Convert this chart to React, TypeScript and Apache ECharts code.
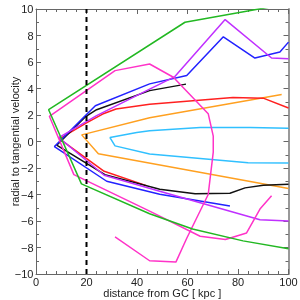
import React, { useEffect, useRef } from "react";
import * as echarts from "echarts";

const xTicks = { min: 0, max: 100, interval: 20 };
const yTicks = { min: -10, max: 10, interval: 2 };
const dashX = 20;

const green = [[100, -8.1], [82, -7.5], [62, -6.6], [45, -5.45], [18, -3.2], [5, 2.4], [59, 9.0], [100, 10.4]];
const pink = [[93.3, -4.1], [88.7, -5.1], [83.4, -6.9], [75, -7.4], [65, -7.15], [45, -5.25], [15, -2.5], [5.3, 1.9], [31.3, 5.35], [45, 5.85], [54.4, 4.85], [68.2, 2.1], [70.2, 0.4], [70.2, -0.8], [68.2, -4.0], [59.7, -7.3], [55.4, -9.1], [45, -9.0], [31.3, -7.2]];
const purple = [[100, -6.0], [88.7, -5.9], [49, -3.75], [27, -2.55], [9, 0.3], [24, 1.95], [45, 3.95], [55, 4.9], [74.9, 9.2], [93.3, 6.3], [100, 6.25]];
const blue = [[76.8, -4.87], [49, -3.98], [28, -3.0], [7.3, -0.38], [19.8, 2.0], [23.5, 2.7], [45, 4.35], [59.7, 4.98], [74.2, 7.9], [86.7, 6.3], [96.6, 6.75], [100, 7.5]];
const black = [[100, -3.23], [90, -3.3], [82.8, -3.5], [76.8, -3.9], [63, -3.95], [49, -3.6], [27.3, -2.5], [8.2, -0.28], [19.8, 1.9], [24, 2.4], [45, 3.84], [59.4, 4.33]];
const red = [[44, -3.35], [27, -2.25], [9.3, 0.2], [20, 1.4], [26.4, 2.07], [31.7, 2.45], [45, 2.82], [78, 3.32], [90, 3.27], [100, 2.53]];
const orange = [[97.3, 3.54], [45, 1.8], [18.1, 0.5], [24.7, -0.92], [100, -3.55]];
const cyan = [[100, 1.0], [84.8, 1.06], [65, 1.06], [45, 0.81], [39.9, 0.68], [29.3, 0.3], [31.3, -0.33], [45, -0.95], [84, -1.6], [100, -1.62]];

const curves: [string, number[][]][] = [
  ["#ffa020", orange],
  ["#30c0ff", cyan],
  ["#ff2020", red],
  ["#111111", black],
  ["#2222ff", blue],
  ["#c030ff", purple],
  ["#ff33c8", pink],
  ["#22b822", green],
];

const FONT = "Liberation Sans";

export default function App() {
  const ref = useRef<HTMLDivElement>(null);
  useEffect(() => {
    document.body.style.margin = "0";
    const chart = echarts.init(ref.current!, null, { renderer: "svg" });
    const baseAxis = (show: boolean) => ({
      axisLine: { show: true, onZero: false, lineStyle: { color: "#666", width: 1 } },
      axisTick: { show: true, inside: true, length: 5, lineStyle: { color: "#666" } },
      minorTick: { show: true, length: 3, lineStyle: { color: "#666" } },
      splitLine: { show: false },
      axisLabel: { show, color: "#222", fontSize: 11, fontFamily: FONT },
    });
    const minus = (v: number) => (v < 0 ? "\u2212" + Math.abs(v) : String(v));
    chart.setOption({
      animation: false,
      grid: { left: 36, top: 9, right: 11.5, bottom: 26, containLabel: false, outerBoundsMode: "none" },
      xAxis: [
        {
          type: "value", position: "bottom", ...xTicks, ...baseAxis(true),
          minorTick: { show: true, splitNumber: 5, length: 3, lineStyle: { color: "#666" } },
          axisLabel: { show: true, color: "#222", fontSize: 11, lineHeight: 11, fontFamily: FONT, margin: 2.5 },
          name: "distance from GC [ kpc ]", nameLocation: "middle", nameGap: 13.5, nameMoveOverlap: false,
          nameTextStyle: { color: "#222", fontSize: 11, lineHeight: 11, fontFamily: FONT },
        },
        {
          type: "value", position: "top", ...xTicks, ...baseAxis(false),
          minorTick: { show: true, splitNumber: 5, length: 3, lineStyle: { color: "#666" } },
        },
      ],
      yAxis: [
        {
          type: "value", position: "left", ...yTicks, ...baseAxis(true),
          minorTick: { show: true, splitNumber: 2, length: 3, lineStyle: { color: "#666" } },
          axisLabel: { show: true, color: "#222", fontSize: 11, fontFamily: FONT, margin: 2.5, formatter: minus },
          name: "radial to tangential velocity", nameLocation: "middle", nameGap: 16, nameMoveOverlap: false,
          nameTextStyle: { color: "#222", fontSize: 11, lineHeight: 11, fontFamily: FONT },
        },
        {
          type: "value", position: "right", ...yTicks, ...baseAxis(false),
          axisLine: { show: true, onZero: false, lineStyle: { color: "#999", width: 2 } },
          minorTick: { show: true, splitNumber: 2, length: 3, lineStyle: { color: "#666" } },
        },
      ],
      series: [
        ...curves.map(([color, data]) => ({
          type: "line",
          data,
          showSymbol: false,
          symbol: "none",
          lineStyle: { color, width: 1.5 },
          silent: true,
        })),
        {
          type: "line",
          data: [[dashX, yTicks.min], [dashX, yTicks.max]],
          symbol: "none",
          lineStyle: { color: "#000", width: 2, type: [5, 4] },
          silent: true,
        },
      ],
    });
    return () => chart.dispose();
  }, []);
  return <div ref={ref} style={{ position: "fixed", left: 0, top: 0, width: 300, height: 300 }} />;
}
